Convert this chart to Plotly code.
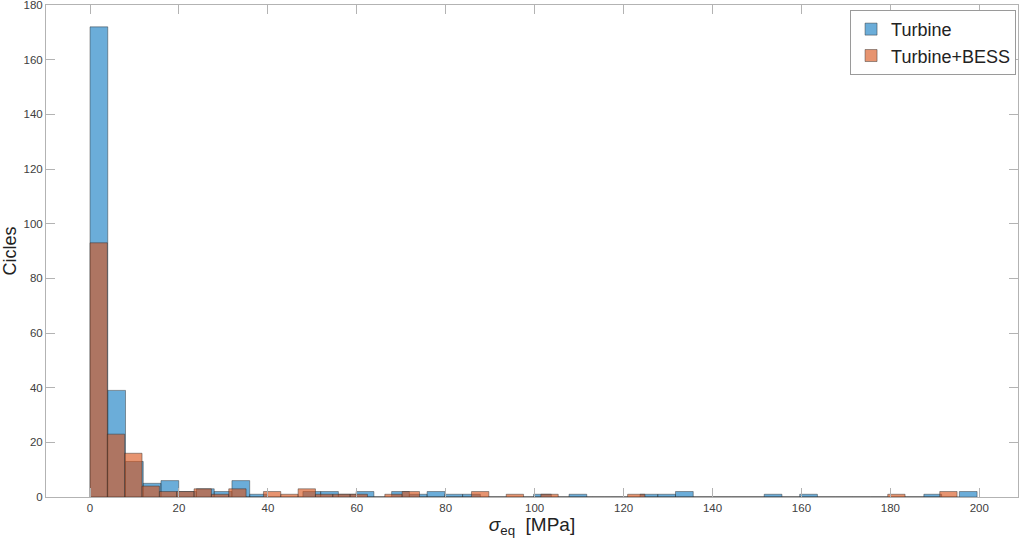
import numpy as np
import plotly.graph_objects as go

# Bin widths (MPa) of the two histograms
bw_turbine = 3.99
bw_bess = 3.9

# Cycle counts per bin, starting at 0 MPa
turbine_counts = [172, 39, 13, 5, 6, 2, 3, 2, 6, 1,
                  0, 0, 2, 2, 1, 2, 0, 2, 1, 2,
                  1, 1, 0, 0, 0, 1, 0, 1, 0, 0,
                  0, 1, 1, 2, 0, 0, 0, 0, 1, 0,
                  1, 0, 0, 0, 0, 0, 0, 1, 0, 2]
bess_counts = [93, 23, 16, 4, 2, 2, 3, 1, 3, 0,
               2, 1, 3, 1, 1, 1, 0, 1, 2, 0,
               0, 0, 2, 0, 1, 0, 1, 0, 0, 0,
               0, 1, 0, 0, 0, 0, 0, 0, 0, 0,
               0, 0, 0, 0, 0, 0, 1, 0, 0, 2]

series_names = ["Turbine", "Turbine+BESS"]
x_ticks = [0, 20, 40, 60, 80, 100, 120, 140, 160, 180, 200]
y_ticks = [0, 20, 40, 60, 80, 100, 120, 140, 160, 180]

edge_col = "rgba(40,40,40,0.55)"
axis_col = "#b3b3b3"

fig = go.Figure()
for name, counts, bw, col in [
    (series_names[0], turbine_counts, bw_turbine, "rgba(0,114,189,0.58)"),
    (series_names[1], bess_counts, bw_bess, "rgba(217,83,25,0.62)"),
]:
    left = np.arange(len(counts)) * bw
    fig.add_trace(go.Bar(
        x=left + bw / 2, y=counts, width=bw, name=name,
        marker=dict(color=col, line=dict(color=edge_col, width=0.8)),
    ))

fig.update_layout(
    width=1023, height=540,
    barmode="overlay",
    paper_bgcolor="white", plot_bgcolor="white",
    margin=dict(l=46, r=5, t=5, b=43, autoexpand=False),
    font=dict(family="Liberation Sans, Arial, sans-serif", color="#404040", size=11.5),
    showlegend=True,
    legend=dict(x=0.998, y=0.99, xanchor="right", yanchor="top",
                bgcolor="white", bordercolor="#9a9a9a", borderwidth=1,
                font=dict(size=18, color="#222222"), itemwidth=30,
                tracegroupgap=0),
)
fig.update_xaxes(
    range=[-9.9, 208.7], tickvals=x_ticks, ticks="inside", ticklen=9,
    tickcolor=axis_col, showline=True, linecolor=axis_col, linewidth=1,
    mirror="ticks", showgrid=False, zeroline=False, ticklabeloverflow="allow",
    title=dict(text="<i>σ</i><sub>eq</sub>  [MPa]", font=dict(size=19, color="#222222"), standoff=2),
)
fig.update_yaxes(
    range=[0, 180], tickvals=y_ticks, ticks="inside", ticklen=9,
    tickcolor=axis_col, showline=True, linecolor=axis_col, linewidth=1,
    mirror="ticks", showgrid=False, zeroline=False, ticklabeloverflow="allow",
    title=dict(text="Cicles", font=dict(size=18, color="#222222"), standoff=6),
)

fig.write_html("out.html", config={"displayModeBar": False},
               post_script="document.body.style.margin='0';document.body.style.overflow='hidden';")
